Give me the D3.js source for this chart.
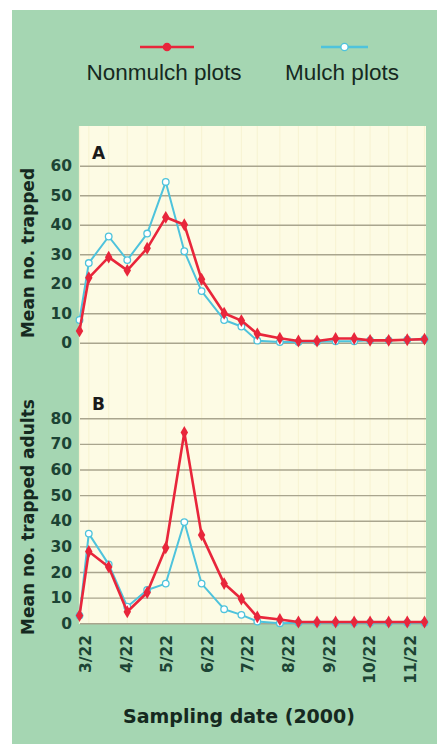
<!DOCTYPE html>
<html>
<head>
<meta charset="utf-8">
<script src="https://cdn.jsdelivr.net/npm/d3@7"></script>
<style>
  body { margin: 0; background: #fff; }
</style>
</head>
<body>
<svg id="container" width="437" height="744"></svg>
<script>
    // sampling dates (2000)
    const dates = ['2000-03-18', '2000-03-25', '2000-04-09', '2000-04-23', '2000-05-08',
                   '2000-05-22', '2000-06-05', '2000-06-18', '2000-07-05', '2000-07-18',
                   '2000-07-30', '2000-08-16', '2000-08-30', '2000-09-13', '2000-09-27',
                   '2000-10-11', '2000-10-23', '2000-11-06', '2000-11-20', '2000-12-03']

    // panel A: mean no. trapped
    const nonmulchA = [4, 22, 29, 24.5, 32, 42.5, 40, 21.5, 10, 7.5, 3, 1.5, 0.6, 0.6, 1.4, 1.4, 0.8, 0.8, 1, 1.2]
    const mulchA = [7.7, 27, 36, 28, 37, 54.5, 31, 17.5, 7.7, 5.5, 0.7, 0.2, 0.2, 0.3, 0.5, 0.5, 0.8, 0.8, 1, 1.2]

    // panel B: mean no. trapped adults
    const nonmulchB = [3, 28, 22, 4.5, 12, 29.5, 74.5, 34.5, 15.5, 9.5, 2.5, 1.5, 0.5, 0.5, 0.5, 0.5, 0.5, 0.5, 0.5, 0.5]
    const mulchB = [3, 35, 23, 6.5, 13, 15.5, 39.5, 15.5, 5.5, 3.3, 0.7, 0, 0.2, 0.2, 0.2, 0.2, 0.2, 0.2, 0.2, 0.2]

    const ticksA = [0, 10, 20, 30, 40, 50, 60]
    const ticksB = [0, 10, 20, 30, 40, 50, 60, 70, 80]
    const dateTicks = ['2000-03-22', '2000-04-22', '2000-05-22', '2000-06-22', '2000-07-22',
                       '2000-08-22', '2000-09-22', '2000-10-22', '2000-11-22']

    const red = '#e8263b';
    const cyan = '#4ec3dc';
    const inkTick = '#1c4434';
    const inkTitle = '#15291f';
    const bold = '"DejaVu Sans", sans-serif';

    const parse = d3.timeParse('%Y-%m-%d');
    const days = dates.map(parse);

    const svg = d3.select('#container');

    // backgrounds
    svg.append('rect').attr('x', 12).attr('y', 10).attr('width', 425).attr('height', 734)
      .attr('fill', '#a5d6b2');
    const plotLeft = 80, plotRight = 426;
    svg.append('rect').attr('x', plotLeft).attr('y', 126)
      .attr('width', plotRight - plotLeft).attr('height', 498)
      .attr('fill', '#fdfbe4');

    const xScale = d3.scaleTime()
      .domain([days[0], days[days.length - 1]])
      .range([79.5, 424.5]);

    // faint vertical stripes
    svg.append('g').selectAll('line')
      .data(days).enter().append('line')
      .attr('x1', d => xScale(d)).attr('x2', d => xScale(d))
      .attr('y1', 126).attr('y2', 624)
      .attr('stroke', '#f8f4d4').attr('stroke-width', 1.2);

    const panels = [
      {label: 'A', title: 'Mean no. trapped', ticks: ticksA, max: 60, range: [342.7, 165.7],
       series: [mulchA, nonmulchA], letterY: 159, titleY: 253},
      {label: 'B', title: 'Mean no. trapped adults', ticks: ticksB, max: 80, range: [623.3, 418.3],
       series: [mulchB, nonmulchB], letterY: 410, titleY: 517}
    ];

    panels.forEach(p => {
      const yScale = d3.scaleLinear().domain([0, p.max]).range(p.range);

      const yAxis = svg.append('g')
        .attr('transform', `translate(${plotLeft}, 0)`)
        .call(d3.axisLeft(yScale)
          .tickValues(p.ticks)
          .tickSize(-(plotRight - plotLeft))
          .tickPadding(8));
      yAxis.select('.domain').remove();
      yAxis.selectAll('line').attr('stroke', '#a9a58e').attr('stroke-width', 1.4);
      yAxis.selectAll('text')
        .attr('fill', inkTick)
        .attr('font-size', 15.5)
        .attr('font-weight', 'bold')
        .attr('font-family', bold);

      svg.append('text')
        .attr('x', 92).attr('y', p.letterY)
        .attr('font-family', bold)
        .attr('font-size', 17).attr('font-weight', 'bold')
        .attr('fill', '#1a1a1a')
        .text(p.label);

      svg.append('text')
        .attr('transform', `translate(28, ${p.titleY}) rotate(-90)`)
        .attr('dy', '0.36em')
        .attr('text-anchor', 'middle')
        .attr('font-family', bold)
        .attr('font-size', 17).attr('font-weight', 'bold')
        .attr('fill', inkTitle)
        .text(p.title);

      const line = d3.line()
        .x((d, i) => xScale(days[i]))
        .y(d => yScale(d));

      // mulch (cyan, open markers)
      svg.append('path').datum(p.series[0])
        .attr('d', line).attr('fill', 'none')
        .attr('stroke', cyan).attr('stroke-width', 2).attr('stroke-linejoin', 'round');
      svg.append('g').selectAll('circle')
        .data(p.series[0]).enter().append('circle')
        .attr('cx', (d, i) => xScale(days[i])).attr('cy', d => yScale(d))
        .attr('r', 3.3).attr('fill', '#ffffff')
        .attr('stroke', cyan).attr('stroke-width', 1.3);

      // nonmulch (red, filled markers)
      svg.append('path').datum(p.series[1])
        .attr('d', line).attr('fill', 'none')
        .attr('stroke', red).attr('stroke-width', 2.6).attr('stroke-linejoin', 'round');
      svg.append('g').selectAll('path')
        .data(p.series[1]).enter().append('path')
        .attr('transform', (d, i) => `translate(${xScale(days[i])}, ${yScale(d)})`)
        .attr('d', d3.symbol().type(d3.symbolDiamond).size(48))
        .attr('fill', red);
    });

    // x axis labels under panel B
    const xAxis = svg.append('g')
      .attr('transform', 'translate(0, 623)')
      .call(d3.axisBottom(xScale)
        .tickValues(dateTicks.map(parse))
        .tickFormat(d3.timeFormat('%-m/%d'))
        .tickSize(0));
    xAxis.select('.domain').remove();
    xAxis.selectAll('text')
      .attr('x', -12).attr('y', 0).attr('dy', '0.36em')
      .attr('transform', 'rotate(-90)')
      .style('text-anchor', 'end')
      .attr('fill', inkTick)
      .attr('font-size', 15.5)
      .attr('font-weight', 'bold')
      .attr('font-family', bold);

    svg.append('text')
      .attr('x', 239).attr('y', 723)
      .attr('text-anchor', 'middle')
      .attr('font-family', bold)
      .attr('font-size', 19).attr('font-weight', 'bold')
      .attr('fill', inkTitle)
      .text('Sampling date (2000)');

    // legend
    const legend = [
      {name: 'Nonmulch plots', color: red, cx: 164, x1: 140, x2: 194, filled: true},
      {name: 'Mulch plots', color: cyan, cx: 342, x1: 321, x2: 368, filled: false}
    ];
    const lg = svg.append('g').selectAll('g')
      .data(legend).enter().append('g');
    lg.append('line')
      .attr('x1', d => d.x1).attr('x2', d => d.x2)
      .attr('y1', 47).attr('y2', 47)
      .attr('stroke', d => d.color).attr('stroke-width', 2.4);
    lg.append('circle')
      .attr('cx', d => (d.x1 + d.x2) / 2).attr('cy', 47).attr('r', 3.6)
      .attr('fill', d => d.filled ? d.color : '#ffffff')
      .attr('stroke', d => d.color).attr('stroke-width', 1.3);
    lg.append('text')
      .attr('x', d => d.cx).attr('y', 80)
      .attr('text-anchor', 'middle')
      .attr('font-family', '"Liberation Sans", Arial, sans-serif')
      .attr('font-size', 22.5)
      .attr('fill', inkTitle)
      .text(d => d.name);
</script>
</body>
</html>
